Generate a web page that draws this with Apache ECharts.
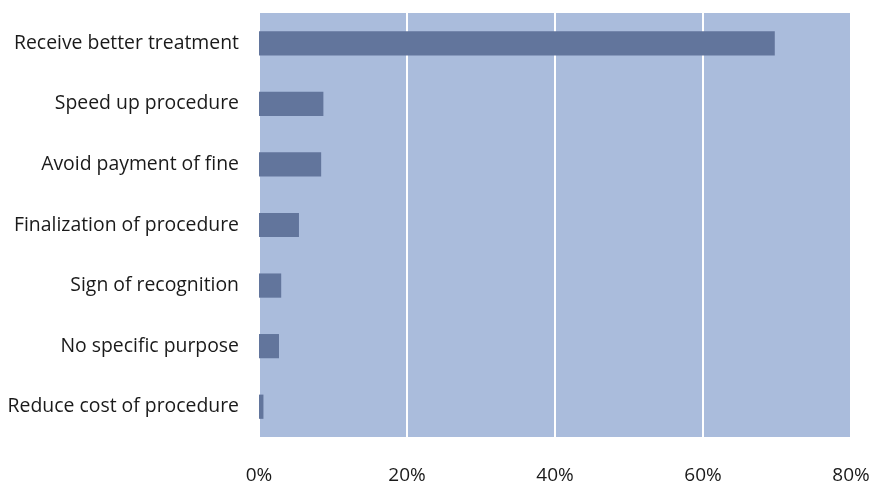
<!DOCTYPE html>
<html>
<head>
<meta charset="utf-8">
<script src="https://cdn.jsdelivr.net/npm/echarts@6/dist/echarts.min.js"></script>
<style>
  html, body { margin: 0; padding: 0; background: #fff; }
  #chart { width: 874px; height: 485px; }
</style>
</head>
<body>
<div id="chart"></div>
<script>
// Reasons given for the payment, share of respondents (%)
const purposes = [
  'Receive better treatment',
  'Speed up procedure',
  'Avoid payment of fine',
  'Finalization of procedure',
  'Sign of recognition',
  'No specific purpose',
  'Reduce cost of procedure'
];
const shares = [69.7, 8.7, 8.4, 5.4, 3.0, 2.7, 0.6];
const axisTicks = [0, 20, 40, 60, 80];

const chart = echarts.init(document.getElementById('chart'));
chart.setOption({
  animation: false,
  textStyle: { fontFamily: 'Open Sans' },
  grid: {
    left: 259, right: 23, top: 13, bottom: 48,
    show: true, backgroundColor: '#AABCDC', borderWidth: 0
  },
  xAxis: {
    type: 'value',
    min: axisTicks[0],
    max: axisTicks[axisTicks.length - 1],
    interval: axisTicks[1] - axisTicks[0],
    axisLine: { show: false },
    axisTick: { show: false },
    axisLabel: {
      formatter: '{value}%', color: '#1a1a1a', fontSize: 19, margin: 29
    },
    splitLine: { lineStyle: { color: '#FFFFFF', width: 2 } }
  },
  yAxis: {
    type: 'category',
    inverse: true,
    data: purposes,
    axisLine: { show: false },
    axisTick: { show: false },
    axisLabel: { color: '#1a1a1a', fontSize: 19.4, margin: 20 }
  },
  series: [{
    type: 'bar',
    data: shares,
    barWidth: '40%',
    itemStyle: { color: '#62759C' }
  }]
});
</script>
</body>
</html>
